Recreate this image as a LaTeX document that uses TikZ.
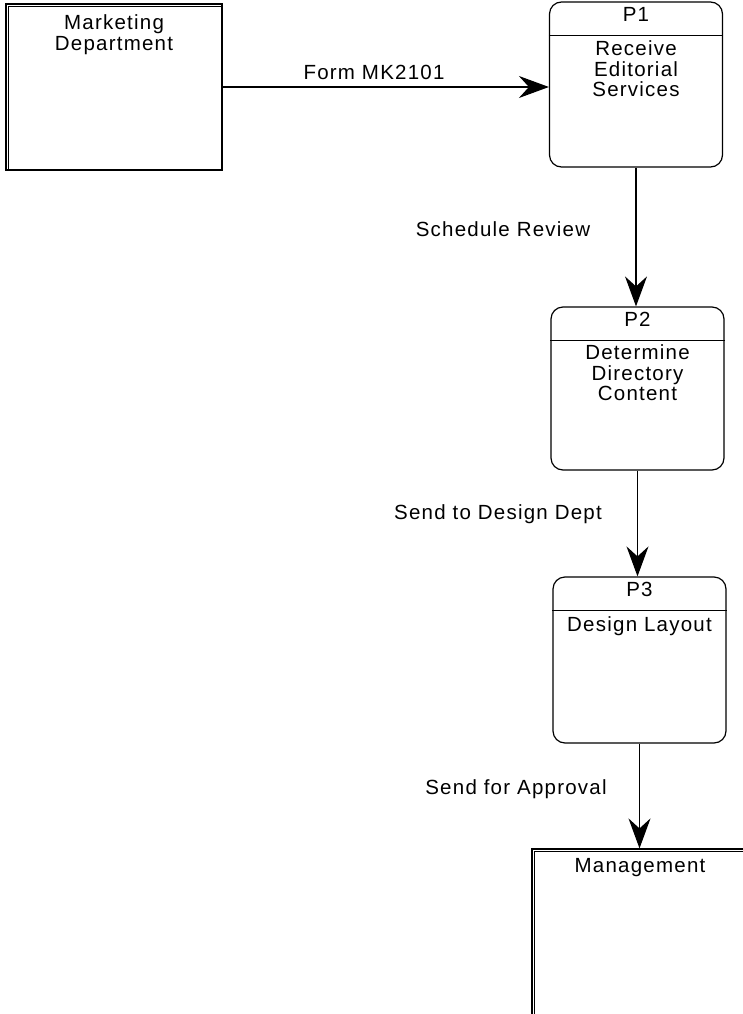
\documentclass[tikz,border=0pt]{standalone}
\usepackage{fontspec}
\setmainfont{Liberation Sans}[LetterSpace=6]
\usetikzlibrary{positioning,arrows.meta}

\begin{document}
\begin{tikzpicture} [x=1pt,y=-1pt,line width=1.2pt,
	every node/.style={font=\fontsize{20.5}{20.5}\selectfont},
	process/.style={draw,rounded corners=12pt,minimum width=173pt,inner sep=0pt},
	entity/.style={draw,minimum width=216pt,minimum height=166pt,inner sep=0pt},
	txt/.style={anchor=north,inner sep=0pt,align=center},
	flow/.style={-{Stealth[length=30pt,width=22pt,inset=10pt]}}]
\def\gap{34pt}

\useasboundingbox (0,0) rectangle (743,1014);
\clip (0,0) rectangle (743,1014);

\node[entity] (mkt) at (114,87) {};
\node[entity] (mgmt) at (640,932) {};
\node[process,minimum height=165pt] (p1) at (636,84.5) {};
\node[process,minimum height=163pt] (p2) at (637.5,388.5) {};
\node[process,minimum height=166pt] (p3) at (639.5,660) {};

\foreach \n in {mkt,mgmt}
	\draw ([xshift=3pt]\n.south west) |- ([yshift=-3pt]\n.north east);
\foreach \n/\id in {p1/P1,p2/P2,p3/P3}
{
	\draw ([yshift=-\gap]\n.north west) -- ([yshift=-\gap]\n.north east);
	\node[txt] (\n id) at ([yshift=-5pt]\n.north) {\id};
}

\node[txt] (mkttxt) at ([yshift=-11pt]mkt.north) {Marketing\\Department};
\node[txt] (mgmttxt) at ([yshift=-9pt]mgmt.north) {Management};
\node[txt] (p1txt) at ([yshift=-39pt]p1.north) {Receive\\Editorial\\Services};
\node[txt] (p2txt) at ([yshift=-38pt]p2.north) {Determine\\Directory\\Content};
\node[txt] (p3txt) at ([yshift=-40pt]p3.north) {Design Layout};

\draw[flow] (mkt.east) -- (mkt.east -| p1.west);
\draw[flow] (p1.south) -- (p1.south |- p2.north);
\draw[flow] (p2.south) -- (p2.south |- p3.north);
\draw[flow] (p3.south) -- (p3.south |- mgmt.north);

\node (lbl1) at (374,72) {Form MK2101};
\node (lbl2) at (503,229) {Schedule Review};
\node (lbl3) at (498,514) {Send to Design Dept};
\node (lbl4) at (516,789) {Send for Approval};

\end{tikzpicture}
\end{document}
